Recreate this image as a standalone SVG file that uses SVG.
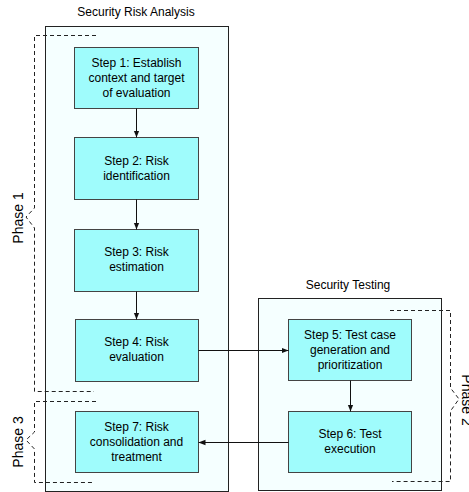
<svg xmlns="http://www.w3.org/2000/svg" width="469" height="492" viewBox="0 0 469 492">
<style>
text{font-family:"Liberation Sans",Arial,sans-serif;fill:#000}
.t{font-size:12px;text-anchor:middle}
.ph{font-size:14px;text-anchor:middle}
.cont{fill:#f5ffff;stroke:#222;stroke-width:1}
.box{fill:#9ffcfc;stroke:#444;stroke-width:1}
.edge{stroke:#111;stroke-width:1;fill:none}
.br{stroke:#222;stroke-width:1;fill:none;stroke-dasharray:4 3}
</style>
<defs>
<marker id="ah" viewBox="0 0 10 10" refX="10" refY="5" markerWidth="7" markerHeight="7" orient="auto" markerUnits="userSpaceOnUse">
<path d="M0,1 L10,5 L0,9 Z" fill="#111"/>
</marker>
</defs>
<g id="container-sra">
<rect class="cont" x="45.5" y="26.5" width="183" height="465"/>
<text class="t" x="136" y="16">Security Risk Analysis</text>
</g>
<g id="container-st">
<rect class="cont" x="258.5" y="298.5" width="183" height="192"/>
<text class="t" x="348" y="289">Security Testing</text>
</g>
<g id="step1">
<rect class="box" x="74.5" y="47.5" width="124" height="61"/>
<text class="t" x="136.5" y="67">Step 1: Establish</text>
<text class="t" x="136.5" y="82">context and target</text>
<text class="t" x="136.5" y="97">of evaluation</text>
</g>
<g id="step2">
<rect class="box" x="74.5" y="137.5" width="124" height="62"/>
<text class="t" x="136.5" y="165">Step 2: Risk</text>
<text class="t" x="136.5" y="180">identification</text>
</g>
<g id="step3">
<rect class="box" x="74.5" y="229.5" width="124" height="62"/>
<text class="t" x="136.5" y="256">Step 3: Risk</text>
<text class="t" x="136.5" y="271">estimation</text>
</g>
<g id="step4">
<rect class="box" x="75.5" y="319.5" width="123" height="62"/>
<text class="t" x="136.5" y="346">Step 4: Risk</text>
<text class="t" x="136.5" y="361">evaluation</text>
</g>
<g id="step7">
<rect class="box" x="75.5" y="411.5" width="123" height="61"/>
<text class="t" x="136.5" y="431">Step 7: Risk</text>
<text class="t" x="136.5" y="446">consolidation and</text>
<text class="t" x="136.5" y="461">treatment</text>
</g>
<g id="step5">
<rect class="box" x="288.5" y="319.5" width="123" height="61"/>
<text class="t" x="350" y="339">Step 5: Test case</text>
<text class="t" x="350" y="354">generation and</text>
<text class="t" x="350" y="369">prioritization</text>
</g>
<g id="step6">
<rect class="box" x="288.5" y="411.5" width="123" height="61"/>
<text class="t" x="350" y="438">Step 6: Test</text>
<text class="t" x="350" y="453">execution</text>
</g>
<g id="connectors">
<line class="edge" x1="136.5" y1="108.5" x2="136.5" y2="137.5" marker-end="url(#ah)"/>
<line class="edge" x1="136.5" y1="199.5" x2="136.5" y2="229.5" marker-end="url(#ah)"/>
<line class="edge" x1="136.5" y1="291.5" x2="136.5" y2="319.5" marker-end="url(#ah)"/>
<line class="edge" x1="198.5" y1="350.5" x2="288.5" y2="350.5" marker-end="url(#ah)"/>
<line class="edge" x1="350.5" y1="380.5" x2="350.5" y2="411.5" marker-end="url(#ah)"/>
<line class="edge" x1="288.5" y1="442.5" x2="198.5" y2="442.5" marker-end="url(#ah)"/>
</g>
<g id="phase1">
<path class="br" d="M96,35.5 H34.5 V208 L26,217 L34.5,228 V391.5 H94"/>
<text class="ph" transform="translate(23,218) rotate(-90)">Phase 1</text>
</g>
<g id="phase3">
<path class="br" d="M96,401.5 H34.5 V432 L26,440 L34.5,449 V482.5 H94"/>
<text class="ph" transform="translate(23,442) rotate(-90)">Phase 3</text>
</g>
<g id="phase2">
<path class="br" d="M390,310.5 H450.5 V388 L459,399 L450.5,411 V481.5 H392"/>
<text class="ph" transform="translate(462,400) rotate(90)">Phase 2</text>
</g>
</svg>
